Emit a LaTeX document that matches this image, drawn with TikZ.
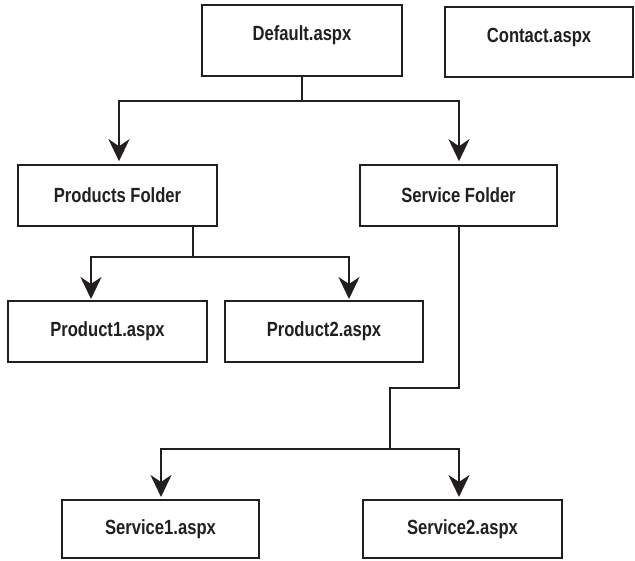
\documentclass[tikz,border=0pt]{standalone}
\usepackage{fontspec}
\setmainfont{Liberation Sans}
\newfontfamily\lblfont{Liberation Sans}[FakeStretch=0.81]
\usetikzlibrary{arrows.meta}
\definecolor{ink}{HTML}{231F20}
\begin{document}
\begin{tikzpicture}[x=1pt,y=-1pt,
  box/.style={draw=ink,line width=1.6pt,inner sep=0pt,text=ink,
    font=\lblfont\bfseries\fontsize{20.5}{24}\selectfont},
  arr/.style={draw=ink,line width=2.6pt,-{Stealth[length=22pt,width=21pt,inset=7pt]}},
  ln/.style={draw=ink,line width=2.6pt}]
\useasboundingbox (0,0) rectangle (635,560);
% nodes
\node[box,minimum width=200pt,minimum height=71pt,text depth=14pt] (def) at (302,40.5) {Default.aspx};
\node[box,minimum width=188pt,minimum height=70pt,text depth=14pt] (con) at (539,42) {Contact.aspx};
\node[box,minimum width=199pt,minimum height=61pt] (prod) at (117.5,195.5) {Products Folder};
\node[box,minimum width=197pt,minimum height=61pt] (serv) at (458.5,195.5) {Service Folder};
\node[box,minimum width=199pt,minimum height=61pt] (p1) at (107.5,331.5) {Product1.aspx};
\node[box,minimum width=198pt,minimum height=61pt] (p2) at (324,331.5) {Product2.aspx};
\node[box,minimum width=197pt,minimum height=58pt] (s1) at (160.5,529) {Service1.aspx};
\node[box,minimum width=199pt,minimum height=58pt] (s2) at (462.5,529) {Service2.aspx};
% junction coordinates
\coordinate (j1) at (302,101);
\coordinate (pa) at (193,226);
\coordinate (j2) at (193,257);
\coordinate (p1t) at (91,299);
\coordinate (p2t) at (349,299);
\coordinate (sa) at (459,226);
\coordinate (k1) at (459,388);
\coordinate (k2) at (390,388);
\coordinate (j3) at (390,449);
\coordinate (s1t) at (161,497);
\coordinate (s2t) at (459,497);
% connectors
\draw[ln] (def.south) -- (j1);
\draw[arr] (j1) -| ([xshift=1.5pt,yshift=3pt]prod.north);
\draw[arr] (j1) -| ([xshift=0.5pt,yshift=3pt]serv.north);
\draw[ln] (pa) -- (j2);
\draw[arr] (j2) -| (p1t);
\draw[arr] (j2) -| (p2t);
\draw[ln] (sa) -- (k1) -- (k2) -- (j3);
\draw[arr] (j3) -| (s1t);
\draw[arr] (j3) -| (s2t);
\end{tikzpicture}
\end{document}
